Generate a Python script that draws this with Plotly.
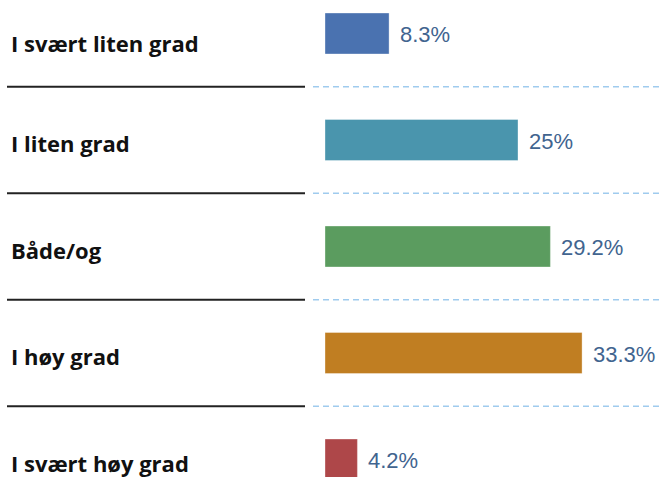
import plotly.graph_objects as go

categories = ["I svært liten grad", "I liten grad", "Både/og", "I høy grad", "I svært høy grad"]
values = [8.3, 25, 29.2, 33.3, 4.2]
value_labels = ["8.3%", "25%", "29.2%", "33.3%", "4.2%"]
colors = ["#4a72b0", "#4a95ad", "#5b9c5f", "#c07e22", "#ae4749"]

positions = list(range(len(categories)))

fig = go.Figure()
fig.add_trace(go.Bar(
    x=values, y=positions, orientation="h",
    marker=dict(color=colors, line=dict(color="rgba(255,255,255,0.35)", width=1)),
    width=0.385, hoverinfo="skip",
))

annotations = []
for p, v, lab in zip(positions, values, value_labels):
    annotations.append(dict(
        x=v, y=p, xref="x", yref="y", text=lab, showarrow=False,
        xanchor="left", yanchor="middle", xshift=9, yshift=-1,
        font=dict(family="Liberation Sans, Arial", size=22, color="#41648f"),
    ))
for p, c in zip(positions, categories):
    annotations.append(dict(
        x=9 / 663, y=p, xref="paper", yref="y", text="<b>" + c + "</b>", showarrow=False,
        xanchor="left", yanchor="middle", yshift=-9 if p == 0 else -3,
        font=dict(family="Open Sans", size=22, color="#111111"),
    ))

shapes = []
for p in positions[:-1]:
    shapes.append(dict(type="line", xref="paper", yref="y",
                       x0=7 / 663, x1=305 / 663, y0=p + 0.5, y1=p + 0.5,
                       line=dict(color="#222222", width=2)))
    shapes.append(dict(type="line", xref="paper", yref="y",
                       x0=313 / 663, x1=1, y0=p + 0.5, y1=p + 0.5,
                       line=dict(color="#9fcbee", width=1.5, dash="6px,4px")))

fig.update_layout(
    width=663, height=477,
    margin=dict(l=0, r=0, t=0, b=0),
    paper_bgcolor="white", plot_bgcolor="white",
    showlegend=False,
    xaxis=dict(range=[-325 / 7.72, 338 / 7.72], visible=False, fixedrange=True),
    yaxis=dict(range=[(477 - 33.5) / 106.5, -33.5 / 106.5], visible=False, fixedrange=True),
    annotations=annotations, shapes=shapes,
)

fig.write_html("out.html")
